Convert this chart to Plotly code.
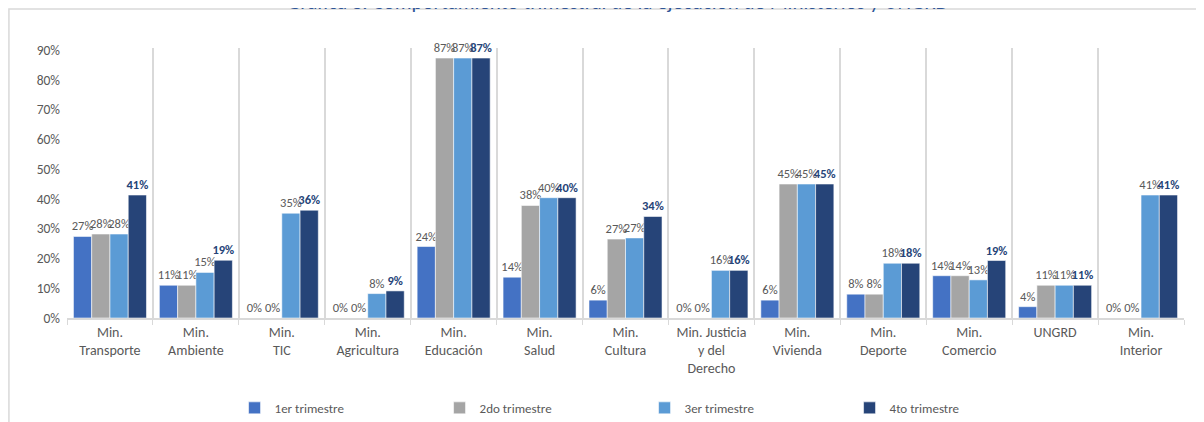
import plotly.graph_objects as go

categories = [
    "Min.<br>Transporte", "Min.<br>Ambiente", "Min.<br>TIC", "Min.<br>Agricultura",
    "Min.<br>Educación", "Min.<br>Salud", "Min.<br>Cultura",
    "Min. Justicia<br>y del<br>Derecho", "Min.<br>Vivienda", "Min.<br>Deporte",
    "Min.<br>Comercio", "UNGRD", "Min.<br>Interior",
]

q1 = [0.274, 0.110, 0.000, 0.000, 0.240, 0.137, 0.060, 0.000, 0.060, 0.080, 0.142, 0.038, 0.000]
q2 = [0.282, 0.110, 0.000, 0.000, 0.873, 0.378, 0.265, 0.000, 0.450, 0.080, 0.142, 0.110, 0.000]
q3 = [0.282, 0.153, 0.352, 0.082, 0.873, 0.404, 0.269, 0.160, 0.450, 0.184, 0.128, 0.110, 0.413]
q4 = [0.413, 0.194, 0.362, 0.091, 0.873, 0.404, 0.341, 0.160, 0.450, 0.184, 0.193, 0.110, 0.413]

series_names = ["1er trimestre", "2do trimestre", "3er trimestre", "4to trimestre"]
colors = ["#4472C4", "#A5A5A5", "#5B9BD5", "#264478"]

title_text = "Gráfica 8. Comportamiento trimestral de la ejecución de Ministerios y UNGRD"

FONT = "Carlito, Lato, sans-serif"
GRAY = "#595959"

fig = go.Figure()
for i, (name, vals) in enumerate(zip(series_names, [q1, q2, q3, q4])):
    last = i == 3
    fig.add_trace(
        go.Bar(
            x=categories,
            y=vals,
            name=name,
            marker_color=colors[i],
            marker_line=dict(color="rgba(255,255,255,0.7)", width=0.8),
            texttemplate="%{y:.0%}",
            textposition="outside",
            constraintext="none",
            cliponaxis=False,
            textfont=dict(
                family=FONT,
                size=12.5,
                color="#264478" if last else GRAY,
                weight="bold" if last else "normal",
            ),
        )
    )

# title sits mostly above the top edge, as in the cropped original
fig.add_annotation(
    text=title_text,
    xref="paper",
    yref="paper",
    x=0.493,
    y=1.172,
    xanchor="center",
    yanchor="middle",
    showarrow=False,
    font=dict(family=FONT, size=21, color="#2F5597"),
)

# the page body adds 8px around the figure, so size it to fit the window
fig.update_layout(
    width=1196,
    height=414,
    margin=dict(l=59, r=20, t=40, b=104, autoexpand=False),
    paper_bgcolor="white",
    plot_bgcolor="white",
    barmode="group",
    bargap=0.15,
    bargroupgap=0,
    font=dict(family=FONT, color=GRAY),
    legend=dict(
        orientation="h",
        x=0.150,
        xanchor="left",
        y=-0.333,
        yanchor="middle",
        entrywidth=160,
        font=dict(family=FONT, size=13, color=GRAY),
        itemclick=False,
    ),
    xaxis=dict(
        tickson="boundaries",
        automargin=False,
        showgrid=True,
        gridcolor="#D9D9D9",
        gridwidth=1.5,
        showline=True,
        linecolor="#D9D9D9",
        linewidth=1.5,
        ticks="outside",
        ticklen=5,
        tickcolor="#D9D9D9",
        tickfont=dict(family=FONT, size=14, color=GRAY),
    ),
    yaxis=dict(
        range=[0, 0.9067],
        automargin=False,
        tickvals=[0, 0.1, 0.2, 0.3, 0.4, 0.5, 0.6, 0.7, 0.8, 0.9],
        tickformat=".0%",
        showgrid=False,
        zeroline=False,
        showline=False,
        ticks="",
        ticklabelstandoff=6,
        tickfont=dict(family=FONT, size=13.5, color=GRAY),
    ),
    shapes=[
        dict(
            type="rect",
            xref="paper",
            yref="paper",
            x0=-0.052,
            x1=1.03,
            y0=-0.45,
            y1=1.1444,
            line=dict(color="#D9D9D9", width=1.5),
            layer="below",
        )
    ],
)

fig.write_html("out.html")
